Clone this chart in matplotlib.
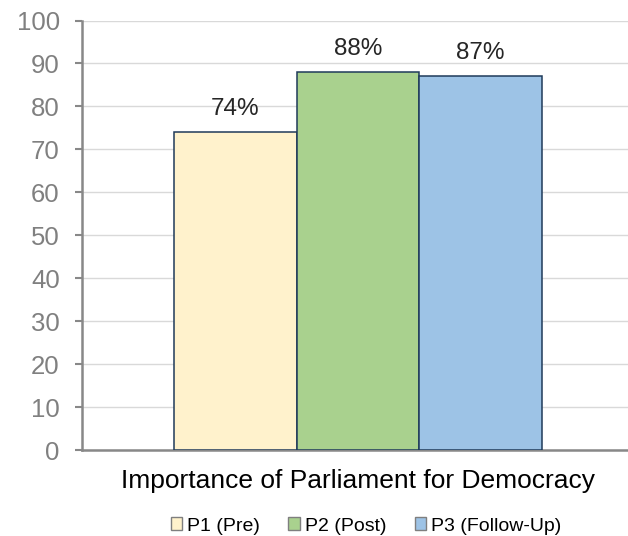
import matplotlib
matplotlib.use("Agg")
import matplotlib.pyplot as plt
from matplotlib.patches import Patch

plt.rcParams['font.family'] = ['Liberation Sans', 'DejaVu Sans']

category = "Importance of Parliament for Democracy"
series = ["P1 (Pre)", "P2 (Post)", "P3 (Follow-Up)"]
values = [74, 88, 87]
labels = ["74%", "88%", "87%"]
colors = ["#FFF2CC", "#A9D18E", "#9DC3E6"]
yticks = [0, 10, 20, 30, 40, 50, 60, 70, 80, 90, 100]

fig = plt.figure(figsize=(6.28, 5.36), dpi=100)
W, H = 628, 536
ax = fig.add_axes([82 / W, 1 - 450 / H, (628 - 82) / W, (450 - 20.5) / H])

positions = [-1, 0, 1]
bars = ax.bar(positions, values, width=1.0, color=colors, edgecolor="#1F3A5A",
              linewidth=1.1, zorder=3)
for b, lab in zip(bars, labels):
    ax.annotate(lab, (b.get_x() + b.get_width() / 2, b.get_height()),
                xytext=(0, 9), textcoords="offset points", ha="center", va="bottom",
                fontsize=17.5, color="#262626")

ax.set_xlim(-2.253, 2.204)
ax.set_ylim(0, 100)
ax.set_yticks(yticks)
ax.set_xticks([])
ax.tick_params(axis="y", direction="out", length=5, width=1.5, color="#888888",
               labelcolor="#808080", labelsize=18.5, pad=11)
ax.grid(axis="y", color="#D9D9D9", linewidth=1.0, zorder=0)
for s in ["top", "right"]:
    ax.spines[s].set_visible(False)
for s in ["left", "bottom"]:
    ax.spines[s].set_color("#888888")
    ax.spines[s].set_linewidth(1.8)
ax.set_xlabel(category, fontsize=19, color="#000000")
ax.xaxis.set_label_coords((358 - 82) / (628 - 82), -(481 - 450) / (450 - 20.5),
                          transform=ax.transAxes)
ax.xaxis.label.set_va("center")

handles = [Patch(facecolor=c, edgecolor="#7F7F7F", linewidth=1.0) for c in colors]
fig.legend(handles, series, loc="center", bbox_to_anchor=(366 / W, 1 - 526 / H),
           ncol=3, frameon=False, fontsize=14, handlelength=0.6, handleheight=0.6,
           handletextpad=0.25, columnspacing=1.45, borderpad=0)

fig.savefig("out.png", dpi=100)
